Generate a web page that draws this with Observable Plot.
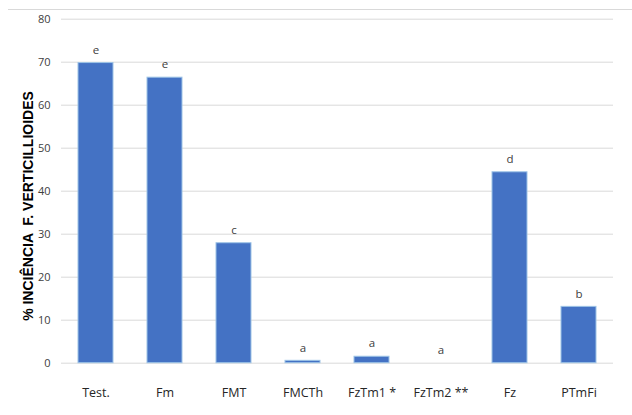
<!DOCTYPE html>
<html>
<head>
<meta charset="utf-8">
<script src="https://cdn.jsdelivr.net/npm/d3@7"></script>
<script src="https://cdn.jsdelivr.net/npm/@observablehq/plot@0.6"></script>
<style>
  html, body { margin: 0; padding: 0; background: #fff; }
  #wrap { position: relative; width: 632px; height: 415px; }
  #topline { position: absolute; left: 8px; top: 9px; width: 624px; height: 1px; background: #d9d9d9; }
  #ytitle { position: absolute; left: 28px; top: 206px; transform: translate(-50%, -50%) rotate(-90deg);
    white-space: pre; font: bold 14px "Liberation Sans", Arial, sans-serif; color: #000; }
</style>
</head>
<body>
<div id="wrap">
  <div id="topline"></div>
  <div id="chart"></div>
  <div id="ytitle">% INCIÊNCIA  F. VERTICILLIOIDES</div>
</div>
<script>
const categories = ["Test.", "Fm", "FMT", "FMCTh", "FzTm1 *", "FzTm2 **", "Fz", "PTmFi"];
const values = [69.8, 66.4, 27.9, 0.55, 1.5, 0, 44.4, 13.1];
const letters = ["e", "e", "c", "a", "a", "a", "d", "b"];
const yTicks = [0, 10, 20, 30, 40, 50, 60, 70, 80];

const data = categories.map((c, i) => ({cat: c, value: values[i], letter: letters[i]}));

const chart = Plot.plot({
  width: 632,
  height: 415,
  marginLeft: 61,
  marginRight: 19,
  marginTop: 18.7,
  marginBottom: 52.3,
  style: {background: "transparent", fontFamily: "'Open Sans', sans-serif"},
  x: {domain: categories, paddingInner: 0.49, paddingOuter: 0.245, label: null},
  y: {domain: [0, 80], label: null},
  marks: [
    Plot.gridY(yTicks, {stroke: "#d9d9d9", strokeOpacity: 1, strokeWidth: 1}),
    Plot.axisY(yTicks, {tickSize: 0, tickPadding: 11, fontSize: 11, fill: "#404040", label: null}),
    Plot.axisX({tickSize: 0, tickPadding: 25, fontSize: 12.5, fill: "#262626", label: null}),
    Plot.barY(data, {x: "cat", y: "value", fill: "#4472c4", stroke: "#9dc3e6", strokeWidth: 1}),
    Plot.text(data, {x: "cat", y: "value", text: "letter", dy: -13, fontSize: 11.5, fill: "#404040"})
  ]
});
document.getElementById("chart").appendChild(chart);
</script>
</body>
</html>
